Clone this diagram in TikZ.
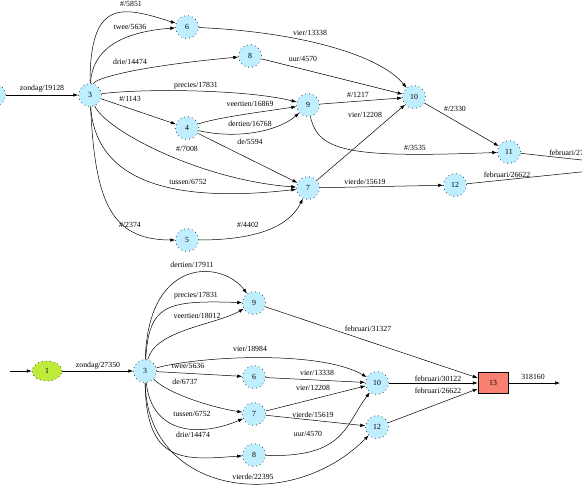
\documentclass[tikz,border=0pt]{standalone}
\usepackage{fontspec}
\setmainfont{Liberation Serif}
\usetikzlibrary{arrows.meta,shapes.geometric}

\definecolor{stateblue}{RGB}{191,239,255}
\definecolor{startgreen}{RGB}{190,235,60}
\definecolor{finalsalmon}{RGB}{250,128,114}

\begin{document}
\begin{tikzpicture}[
  x=1pt, y=1pt,
  >={Latex[length=5pt,width=3.5pt]},
  line width=0.5pt,
  state/.style={circle, draw, fill=stateblue, dash pattern=on 0.8pt off 3.2pt,
    minimum size=23pt, inner sep=0pt, font=\fontsize{7.8}{9}\selectfont},
  start/.style={ellipse, draw, fill=startgreen, dash pattern=on 0.8pt off 3.2pt,
    minimum width=30pt, minimum height=20pt, inner sep=0pt, font=\fontsize{7.8}{9}\selectfont},
  final/.style={rectangle, draw, fill=finalsalmon, minimum width=30pt,
    minimum height=21pt, inner sep=0pt, font=\fontsize{7.8}{9}\selectfont},
  lbl/.style={inner sep=0pt, font=\fontsize{7.8}{9}\selectfont}
]
\useasboundingbox (0,0) rectangle (582,-485);

% upper graph
\node[state] (t2)  at (-6,-95)   {};
\node[state] (t3)  at (90,-95)   {3};
\node[state] (t6)  at (187,-27)  {6};
\node[state] (t8)  at (250,-56)  {8};
\node[state] (t9)  at (308,-105) {9};
\node[state] (t10) at (414,-97)  {10};
\node[state] (t4)  at (187,-128) {4};
\node[state] (t7)  at (308,-188) {7};
\node[state] (t5)  at (187,-240) {5};
\node[state] (t11) at (509,-152) {11};
\node[state] (t12) at (455,-185) {12};
\coordinate (out11) at (600,-162);
\coordinate (out12) at (600,-170);

\draw[->] (t2) -- (t3);
\draw[->] (t3) .. controls (90,0) and (120,-5) .. (t6);
\draw[->] (t3) .. controls (92,-50) and (120,-32) .. (t6);
\draw[->] (t3) .. controls (95,-78) and (140,-66) .. (t8);
\draw[->] (t3) .. controls (150,-88) and (250,-90) .. (t9);
\draw[->] (t3) -- (t4);
\draw[->] (t3) .. controls (105,-130) and (200,-180) .. (t7);
\draw[->] (t3) .. controls (95,-175) and (160,-205) .. (t7);
\draw[->] (t3) .. controls (95,-200) and (110,-240) .. (t5);
\draw[->] (t6) .. controls (300,-32) and (380,-55) .. (t10);
\draw[->] (t8) -- (t10);
\draw[->] (t9) -- (t10);
\draw[->] (t4) .. controls (215,-118) and (260,-112) .. (t9);
\draw[->] (t4) .. controls (240,-140) and (280,-130) .. (t9);
\draw[->] (t4) -- (t7);
\draw[->] (t5) .. controls (260,-240) and (290,-225) .. (t7);
\draw[->] (t7) -- (t10);
\draw[->] (t9) .. controls (318,-152) and (350,-158) .. (t11);
\draw[->] (t10) -- (t11);
\draw[->] (t7) -- (t12);
\draw (t11) -- (out11);
\draw (t12) -- (out12);

\node[lbl] (l-t23)   at (42,-89)   {zondag/19128};
\node[lbl] (l-t36a)  at (131,-4)   {\#/5851};
\node[lbl] (l-t36b)  at (130,-27)  {twee/5636};
\node[lbl] (l-t38)   at (130,-62)  {drie/14474};
\node[lbl] (l-t39)   at (196,-86)  {precies/17831};
\node[lbl] (l-t34)   at (130,-99)  {\#/1143};
\node[lbl] (l-t37a)  at (187,-149) {\#/7008};
\node[lbl] (l-t37b)  at (188,-182) {tussen/6752};
\node[lbl] (l-t35)   at (130,-225) {\#/2374};
\node[lbl] (l-t610)  at (310,-33)  {vier/13338};
\node[lbl] (l-t810)  at (303,-59)  {uur/4570};
\node[lbl] (l-t910)  at (358,-95)  {\#/1217};
\node[lbl] (l-t49a)  at (250,-104) {veertien/16869};
\node[lbl] (l-t49b)  at (250,-124) {dertien/16768};
\node[lbl] (l-t47)   at (250,-142) {de/5594};
\node[lbl] (l-t710)  at (365,-115) {vier/12208};
\node[lbl] (l-t911)  at (415,-148) {\#/3535};
\node[lbl] (l-t1011) at (455,-109) {\#/2330};
\node[lbl] (l-t712)  at (365,-182) {vierde/15619};
\node[lbl] (l-t57)   at (248,-225) {\#/4402};
\node[lbl, anchor=west] (l-t11o) at (549,-153) {februari/27};
\node[lbl] (l-t12o)  at (507,-175) {februari/26622};

% lower graph
\coordinate (in1) at (10,-371);
\node[start] (b1)  at (47,-371)  {1};
\node[state] (b3)  at (145,-371) {3};
\node[state] (b9)  at (254,-303) {9};
\node[state] (b6)  at (254,-377) {6};
\node[state] (b10) at (377,-383) {10};
\node[state] (b7)  at (254,-414) {7};
\node[state] (b12) at (377,-427) {12};
\node[state] (b8)  at (254,-455) {8};
\node[final] (b13) at (493,-383) {13};
\coordinate (out13) at (560,-383);

\draw[->] (in1) -- (b1);
\draw[->] (b1) -- (b3);
\draw[->] (b3) .. controls (148,-256) and (222,-260) .. (b9);
\draw[->] (b3) .. controls (149,-305) and (165,-300) .. (b9);
\draw[->] (b3) .. controls (155,-330) and (215,-325) .. (b9);
\draw[->] (b3) .. controls (200,-356) and (320,-350) .. (b10);
\draw[->] (b3) -- (b6);
\draw[->] (b3) .. controls (170,-395) and (215,-408) .. (b7);
\draw[->] (b3) .. controls (152,-435) and (200,-437) .. (b7);
\draw[->] (b3) .. controls (146,-465) and (185,-460) .. (b8);
\draw[->] (b3) .. controls (147,-495) and (290,-515) .. (b12);
\draw[->] (b6) -- (b10);
\draw[->] (b7) -- (b10);
\draw[->] (b7) -- (b12);
\draw[->] (b8) .. controls (345,-458) and (345,-425) .. (b10);
\draw[->] (b9) -- (b13);
\draw[->] (b10) -- (b13);
\draw[->] (b12) -- (b13);
\draw[->] (b13) -- (out13);

\node[lbl] (l-b13)   at (98,-366)  {zondag/27350};
\node[lbl] (l-b39a)  at (192,-265) {dertien/17911};
\node[lbl] (l-b39b)  at (196,-296) {precies/17831};
\node[lbl] (l-b39c)  at (197,-316) {veertien/18012};
\node[lbl] (l-b310)  at (250,-349) {vier/18984};
\node[lbl] (l-b36)   at (188,-366) {twee/5636};
\node[lbl] (l-b37a)  at (185,-382) {de/6737};
\node[lbl] (l-b37b)  at (192,-414) {tussen/6752};
\node[lbl] (l-b38)   at (193,-435) {drie/14474};
\node[lbl] (l-b312)  at (253,-477) {vierde/22395};
\node[lbl] (l-b610)  at (317,-373) {vier/13338};
\node[lbl] (l-b710)  at (313,-388) {vier/12208};
\node[lbl] (l-b712)  at (313,-415) {vierde/15619};
\node[lbl] (l-b810)  at (308,-434) {uur/4570};
\node[lbl] (l-b913)  at (368,-329) {februari/31327};
\node[lbl] (l-b1013) at (438,-379) {februari/30122};
\node[lbl] (l-b1213) at (438,-391) {februari/26622};
\node[lbl] (l-b13o)  at (533,-377) {318160};

\end{tikzpicture}
\end{document}
